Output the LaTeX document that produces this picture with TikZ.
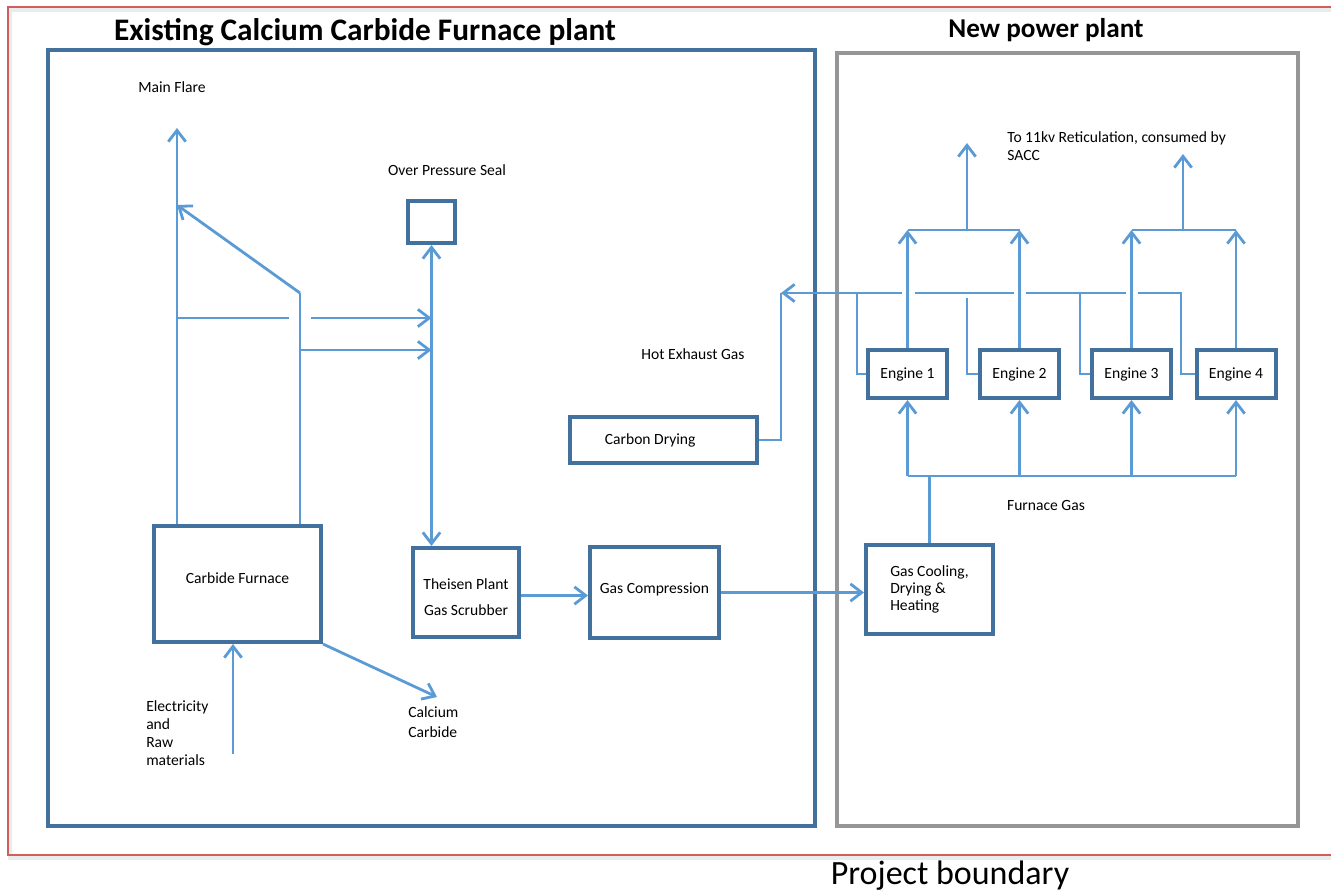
\documentclass[tikz,border=0pt]{standalone}
\usepackage{fontspec}
\setmainfont{Carlito}
\usepackage{tikz}
\usetikzlibrary{
    arrows.meta,
    calc,
    positioning
}
\definecolor{pipeblue}{RGB}{91,155,213}
\definecolor{boxblue}{RGB}{65,113,156}
\definecolor{framegray}{RGB}{150,150,150}
\definecolor{boundred}{RGB}{205,96,92}
\tikzset{
    pipe/.style={draw=pipeblue, line width=2.1pt},
    plantbox/.style 2 args={draw=boxblue, line width=3pt, fill=white,
        minimum width=#1*0.75pt, minimum height=#2*0.75pt,
        inner sep=0pt, align=center, font=\fontsize{11.7}{14}\selectfont},
    note/.style={inner sep=0pt, font=\fontsize{11.7}{14}\selectfont},
    heading/.style={inner sep=0pt, font=\bfseries\fontsize{#1}{#1}\selectfont}
}

\begin{document}
\begin{tikzpicture}[x=0.75pt, y=-0.75pt, >={Straight Barb[length=8.5pt, width=13pt]}]
                        \useasboundingbox (0,0) rectangle (1331,893);
                        \draw[black!8, line width=3pt] (1331,9.5) -- (9.5,9.5) -- (9.5,857.5) -- (1331,857.5);
                        \draw[boundred, line width=2.1pt] (1331,7) -- (8,7) -- (8,855) -- (1331,855);
                        \draw[boxblue, line width=3pt] (48,50) rectangle (815,826);
                        \draw[framegray, line width=3pt] (837,53) rectangle (1298,826);
                        \node[heading=23.5] (existing) at (365,32) {Existing Calcium Carbide Furnace plant};
                        \node[heading=20.4] (newplant) at (1046,30) {New power plant};
                        \node[inner sep=0pt, font=\fontsize{25.5}{30}\selectfont] (boundary) at (950,876) {Project boundary};

                        \node[plantbox={167}{116}] (furnace) at (237.5,584) {Carbide Furnace\\[-5pt]};
                        \node[plantbox={47}{42}] (seal) at (431.5,222) {};
                        \node[plantbox={106}{89}] (theisen) at (466,592.5) {};
                        \node[note, align=center] (theisenlbl) at (466,597) {Theisen Plant\\[6pt]Gas Scrubber};
                        \node[plantbox={129}{91}] (compr) at (654.5,592.5) {Gas Compression\\[-7pt]};
                        \node[plantbox={127}{89}, align=left, font=\fontsize{11.7}{13}\selectfont] (cooling) at (929.5,589.5) {Gas Cooling,\\Drying \&\\Heating};
                        \node[plantbox={187}{46}] (drying) at (663.5,440) {Carbon Drying\hspace{20pt}};
                        \foreach \n/\x in {1/907.5, 2/1019.5, 3/1131.5, 4/1236}
                            \node[plantbox={79}{48}] (eng\n) at (\x,374) {Engine \n};

                        \node[note] (flarelbl) at (172,87) {Main Flare};
                        \node[note] (seallbl) at (447,170) {Over Pressure Seal};
                        \node[note] (hotlbl) at (693,354) {Hot Exhaust Gas};
                        \node[note] (gaslbl) at (1046,505) {Furnace Gas};
                        \node[note, anchor=west, align=left, font=\fontsize{11.7}{13.5}\selectfont] (gridlbl) at (1007,146) {To 11kv Reticulation, consumed by\\SACC};
                        \node[note, anchor=north west, align=left, font=\fontsize{11.7}{13.5}\selectfont] (feedlbl) at (146,700) {Electricity\\and\\Raw\\materials};
                        \node[note, anchor=north west, align=left, font=\fontsize{11.7}{15.5}\selectfont] (carbidelbl) at (408,706) {Calcium\\Carbide};

                        \coordinate (flare) at (177,128);
                        \coordinate (flarein) at (177,205);
                        \coordinate (kink) at (300,293);
                        \coordinate (hdrA) at (177,318);
                        \coordinate (hdrB) at (300,350);
                        \coordinate (jumpL) at (289,318);
                        \coordinate (jumpR) at (311,318);
                        \coordinate (feed) at (233,754);
                        \coordinate (product) at (437,697);
                        \draw[pipe, ->] (furnace.north -| flare) -- (flare);
                        \draw[pipe] (furnace.north -| kink) -- (kink);
                        \draw[pipe, ->] (kink) -- (flarein);
                        \draw[pipe] (hdrA) -- (jumpL);
                        \draw[pipe, ->] (jumpR) -- (hdrA -| seal.south);
                        \draw[pipe, ->] (hdrB) -- (hdrB -| seal.south);
                        \draw[pipe, <->] (seal.south) -- (seal.south |- theisen.north);
                        \draw[pipe, ->] (feed) -- (feed |- furnace.south);
                        \draw[pipe, ->] (furnace.south east) -- (product);
                        \draw[pipe, ->] ($(theisen.east)+(0,3)$) -- ($(theisen.east -| compr.west)+(0,3)$);
                        \draw[pipe, ->] (compr.east) -- (compr.east -| cooling.west);

                        \coordinate (exhaust) at (781,293);
                        \coordinate (busend) at (1181,293);
                        \draw[pipe] (drying.east) -| (exhaust);
                        \draw[pipe, ->] (eng4.west) -| (busend)
                            -- ($(eng3.north |- busend)+(6,0)$) ($(eng3.north |- busend)+(-6,0)$)
                            -- ($(eng2.north |- busend)+(6,0)$) ($(eng2.north |- busend)+(-6,0)$)
                            -- ($(eng1.north |- busend)+(7,0)$) ($(eng1.north |- busend)+(-6,0)$)
                            -- (exhaust);
                        \foreach \n/\x/\y in {1/857/293, 2/967/298, 3/1080/293} {
                            \coordinate (tap\n) at (\x,\y);
                            \draw[pipe] (eng\n.west) -| (tap\n);
                        }

                        \coordinate (combA) at (967,230);
                        \coordinate (combB) at (1183,230);
                        \coordinate (gridA) at (967,143);
                        \coordinate (gridB) at (1183,154);
                        \foreach \n in {1,...,4}
                            \draw[pipe, ->] (eng\n.north) -- (eng\n.north |- combA);
                        \draw[pipe] (eng1.north |- combA) -- (eng2.north |- combA);
                        \draw[pipe] (eng3.north |- combB) -- (eng4.north |- combB);
                        \draw[pipe, ->] (combA) -- (gridA);
                        \draw[pipe, ->] (combB) -- (gridB);

                        \coordinate (gasbus) at (930,476);
                        \draw[pipe] (cooling.north) -- (cooling.north |- gasbus);
                        \draw[pipe] (eng1.south |- gasbus) -- (eng4.south |- gasbus);
                        \foreach \n in {1,...,4}
                            \draw[pipe, ->] (eng\n.south |- gasbus) -- (eng\n.south);
                    \end{tikzpicture}
\end{document}
